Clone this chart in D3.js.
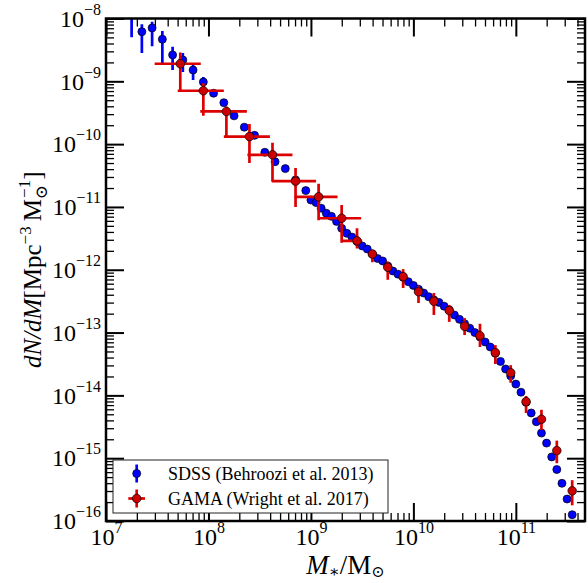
<!DOCTYPE html>
<html lang="en">
<head>
  <meta charset="utf-8">
  <title>Stellar mass function</title>
  <style>
    body { margin: 0; background: #fff; }
    text { font-family: "Liberation Serif", "DejaVu Serif", serif; }
  </style>
</head>
<body>
  <div id="chart-area"></div>

  <script src="https://cdn.jsdelivr.net/npm/d3@7/dist/d3.min.js"></script>
  <script>
    // SDSS (Behroozi et al. 2013): log10 M*, log10 dN/dM, error bars in dex
    var sdssLogM = [7.25, 7.35, 7.45, 7.55, 7.65, 7.75, 7.85, 7.95, 8.05, 8.15,
                    8.25, 8.35, 8.45, 8.55, 8.65, 8.75, 8.85, 8.95,
                    9.00, 9.05, 9.10, 9.15, 9.20, 9.25, 9.30, 9.35, 9.40, 9.45,
                    9.50, 9.55, 9.60, 9.65, 9.70, 9.75, 9.80, 9.85, 9.90, 9.95,
                    10.00, 10.05, 10.10, 10.15, 10.20, 10.25, 10.30, 10.35, 10.40, 10.45,
                    10.50, 10.55, 10.60, 10.65, 10.70, 10.75, 10.80, 10.85, 10.90, 10.95,
                    11.00, 11.05, 11.10, 11.15, 11.20, 11.25, 11.30, 11.35, 11.40, 11.45,
                    11.50, 11.55];
    var sdssLogN = [-7.90, -8.21, -8.15, -8.33, -8.58, -8.66, -8.82, -9.01, -9.19, -9.34,
                    -9.55, -9.73, -9.86, -10.13, -10.28, -10.39, -10.57, -10.74,
                    -10.89, -10.93, -11.02, -11.10, -11.15, -11.23, -11.34, -11.42, -11.48, -11.55,
                    -11.62, -11.67, -11.75, -11.82, -11.86, -11.94, -12.02, -12.07, -12.12, -12.19,
                    -12.25, -12.31, -12.37, -12.43, -12.48, -12.52, -12.58, -12.64, -12.72, -12.79,
                    -12.86, -12.93, -13.00, -13.07, -13.15, -13.23, -13.33, -13.46, -13.58, -13.69,
                    -13.82, -13.95, -14.11, -14.28, -14.42, -14.60, -14.76, -14.98, -15.18, -15.40,
                    -15.65, -15.90];
    var sdssErrDn = [0.40, 0.34, 0.29, 0.40, 0.24, 0.19, 0.16, 0.08, 0.05, 0.04,
                     0.03, 0.03, 0.03, 0.03, 0.03, 0.03, 0.03, 0.03,
                     0.02, 0.02, 0.02, 0.02, 0.02, 0.02, 0.02, 0.02, 0.02, 0.02,
                     0.02, 0.02, 0.02, 0.02, 0.02, 0.02, 0.02, 0.02, 0.02, 0.02,
                     0.02, 0.02, 0.02, 0.02, 0.02, 0.02, 0.02, 0.02, 0.02, 0.02,
                     0.02, 0.02, 0.02, 0.02, 0.02, 0.02, 0.02, 0.02, 0.02, 0.02,
                     0.02, 0.02, 0.02, 0.02, 0.02, 0.02, 0.02, 0.02, 0.02, 0.02,
                     0.02, 0.02];
    var sdssErrUp = [0.40, 0.12, 0.10, 0.13, 0.13, 0.11, 0.11, 0.08, 0.05, 0.04,
                     0.03, 0.03, 0.03, 0.03, 0.03, 0.03, 0.03, 0.03,
                     0.02, 0.02, 0.02, 0.02, 0.02, 0.02, 0.02, 0.02, 0.02, 0.02,
                     0.02, 0.02, 0.02, 0.02, 0.02, 0.02, 0.02, 0.02, 0.02, 0.02,
                     0.02, 0.02, 0.02, 0.02, 0.02, 0.02, 0.02, 0.02, 0.02, 0.02,
                     0.02, 0.02, 0.02, 0.02, 0.02, 0.02, 0.02, 0.02, 0.02, 0.02,
                     0.02, 0.02, 0.02, 0.02, 0.02, 0.02, 0.02, 0.02, 0.02, 0.02,
                     0.02, 0.02];

    // GAMA (Wright et al. 2017): log10 M*, log10 dN/dM, bar ends and bin edges
    var gamaLogM = [7.725, 7.95, 8.175, 8.40, 8.625, 8.85, 9.075, 9.30, 9.45, 9.60,
                    9.75, 9.90, 10.05, 10.20, 10.35, 10.50, 10.65, 10.80, 10.95, 11.10,
                    11.25, 11.40, 11.55];
    var gamaLogN = [-8.72, -9.15, -9.48, -9.88, -10.17, -10.59, -10.84, -11.18, -11.54, -11.75,
                    -11.96, -12.11, -12.35, -12.50, -12.65, -12.90, -13.05, -13.32, -13.64, -14.10,
                    -14.38, -14.88, -15.52];
    var gamaLogNHi = [-8.54, -9.03, -9.40, -9.68, -9.98, -10.38, -10.63, -10.97, -11.34, -11.69,
                      -11.87, -11.99, -12.26, -12.37, -12.56, -12.77, -12.86, -13.20, -13.52, -14.01,
                      -14.23, -14.72, -15.35];
    var gamaLogNLo = [-9.14, -9.55, -9.88, -10.30, -10.60, -11.00, -11.21, -11.57, -11.66, -11.88,
                      -12.16, -12.29, -12.53, -12.72, -12.83, -13.04, -13.23, -13.50, -13.80, -14.28,
                      -14.55, -15.08, -15.75];
    var gamaBinLo = [7.475, 7.70, 7.92, 8.15, 8.38, 8.62, 8.84, 9.07, 9.30, 9.60,
                     9.75, 9.90, 10.05, 10.20, 10.35, 10.50, 10.65, 10.80, 10.95, 11.10,
                     11.25, 11.40, 11.55];
    var gamaBinHi = [7.925, 8.15, 8.375, 8.60, 8.82, 9.05, 9.26, 9.49, 9.50, 9.60,
                     9.75, 9.90, 10.05, 10.20, 10.35, 10.50, 10.65, 10.80, 10.95, 11.10,
                     11.25, 11.40, 11.55];

    // tick labels (powers of ten)
    var xTickExp = [7, 8, 9, 10, 11];
    var yTickExp = [-16, -15, -14, -13, -12, -11, -10, -9, -8];

    var legendLabels = ["SDSS (Behroozi et al. 2013)", "GAMA (Wright et al. 2017)"];

    var blue = "#0000ff";
    var red = "#dd0000";
    var redFill = "#cc0000";

    var margin = { top: 18.5, left: 106, bottom: 62, right: 3 };
    var svgWidth = 588;
    var svgHeight = 583;
    var width = svgWidth - margin.left - margin.right;
    var height = svgHeight - margin.top - margin.bottom;

    var p10 = function(v) { return Math.pow(10, v); };

    var svg = d3.select("#chart-area")
                .append("svg")
                .attr("width", svgWidth)
                .attr("height", svgHeight);

    var g = svg.append("g")
               .attr("transform", "translate(" + margin.left + "," + margin.top + ")");

    var x = d3.scaleLog()
              .domain([1e7, p10(11.675)])
              .range([0, width]);

    var y = d3.scaleLog()
              .domain([1e-16, 1e-8])
              .range([height, 0]);

    var xMajor = xTickExp.map(p10);
    var yMajor = yTickExp.map(p10);
    var xMinor = [], yMinor = [];
    xTickExp.forEach(function(e) {
      for (var m = 2; m <= 9; m++) {
        var v = m * p10(e);
        if (v < x.domain()[1]) xMinor.push(v);
      }
    });
    yTickExp.slice(0, -1).forEach(function(e) {
      for (var m = 2; m <= 9; m++) yMinor.push(m * p10(e));
    });

    // power-of-ten labels with a raised exponent
    function powLabels(sel) {
      sel.selectAll(".tick text").each(function(d) {
        var e = Math.round(Math.log10(d));
        var t = d3.select(this).text(null);
        t.append("tspan").text("10");
        t.append("tspan")
         .attr("dy", -12)
         .attr("font-size", 16)
         .text(e < 0 ? "\u2212" + (-e) : e);
      });
    }

    function styleAxis(sel, w) {
      sel.attr("font-family", null).attr("font-size", 24);
      sel.select(".domain").remove();
      sel.selectAll(".tick line").attr("stroke-width", w);
    }

    // axes: ticks point inward on all four sides
    var axes = [
      { a: d3.axisBottom(x), t: "translate(0," + height + ")", major: xMajor, minor: xMinor, lab: true, pad: 7 },
      { a: d3.axisTop(x), t: "translate(0,0)", major: xMajor, minor: xMinor, lab: false, pad: 5 },
      { a: d3.axisLeft(y), t: "translate(0,0)", major: yMajor, minor: yMinor, lab: true, pad: 5 },
      { a: d3.axisRight(y), t: "translate(" + width + ",0)", major: yMajor, minor: yMinor, lab: false, pad: 5 }
    ];
    axes.forEach(function(ax) {
      g.append("g")
       .attr("transform", ax.t)
       .call(ax.a.tickValues(ax.minor).tickSize(-8).tickFormat(""))
       .call(styleAxis, 1.3);
      var mg = g.append("g")
                .attr("transform", ax.t)
                .call(ax.a.tickValues(ax.major).tickSize(-18)
                          .tickPadding(ax.pad)
                          .tickFormat(ax.lab ? d3.format("") : ""))
                .call(styleAxis, 2);
      if (ax.lab) mg.call(powLabels);
    });

    // data
    svg.append("defs").append("clipPath").attr("id", "plot-clip")
       .append("rect").attr("width", width).attr("height", height);

    var plot = g.append("g").attr("clip-path", "url(#plot-clip)");

    var sdss = sdssLogM.map(function(m, i) {
      return { m: p10(m), n: p10(sdssLogN[i]),
               lo: p10(sdssLogN[i] - sdssErrDn[i]), hi: p10(sdssLogN[i] + sdssErrUp[i]) };
    });
    var gama = gamaLogM.map(function(m, i) {
      return { m: p10(m), n: p10(gamaLogN[i]),
               lo: p10(gamaLogNLo[i]), hi: p10(gamaLogNHi[i]),
               x0: p10(gamaBinLo[i]), x1: p10(gamaBinHi[i]) };
    });

    plot.selectAll(".sdss-err")
        .data(sdss)
        .enter().append("line")
        .attr("x1", function(d) { return x(d.m); })
        .attr("x2", function(d) { return x(d.m); })
        .attr("y1", function(d) { return y(d.lo); })
        .attr("y2", function(d) { return y(d.hi); })
        .attr("stroke", blue)
        .attr("stroke-width", 2.7);

    plot.selectAll(".sdss-pt")
        .data(sdss)
        .enter().append("circle")
        .attr("cx", function(d) { return x(d.m); })
        .attr("cy", function(d) { return y(d.n); })
        .attr("r", 4)
        .attr("fill", blue)
        .attr("stroke", "#000")
        .attr("stroke-width", 0.7);

    plot.selectAll(".gama-xerr")
        .data(gama.filter(function(d) { return d.x1 > d.x0; }))
        .enter().append("line")
        .attr("x1", function(d) { return x(d.x0); })
        .attr("x2", function(d) { return x(d.x1); })
        .attr("y1", function(d) { return y(d.n); })
        .attr("y2", function(d) { return y(d.n); })
        .attr("stroke", red)
        .attr("stroke-width", 2.7);

    plot.selectAll(".gama-yerr")
        .data(gama)
        .enter().append("line")
        .attr("x1", function(d) { return x(d.m); })
        .attr("x2", function(d) { return x(d.m); })
        .attr("y1", function(d) { return y(d.lo); })
        .attr("y2", function(d) { return y(d.hi); })
        .attr("stroke", red)
        .attr("stroke-width", 2.7);

    plot.selectAll(".gama-pt")
        .data(gama)
        .enter().append("circle")
        .attr("cx", function(d) { return x(d.m); })
        .attr("cy", function(d) { return y(d.n); })
        .attr("r", 4.3)
        .attr("fill", redFill)
        .attr("stroke", "#000")
        .attr("stroke-width", 0.7);

    // frame
    g.append("rect")
     .attr("width", width)
     .attr("height", height)
     .attr("fill", "none")
     .attr("stroke", "#000")
     .attr("stroke-width", 2.5);

    // legend
    var lg = svg.append("g").attr("transform", "translate(113,460)");
    lg.append("rect")
      .attr("width", 275).attr("height", 53)
      .attr("fill", "#fff").attr("stroke", "#222").attr("stroke-width", 1);
    [0, 1].forEach(function(i) {
      var cy = 13.5 + i * 25;
      var c = i === 0 ? blue : red;
      lg.append("line").attr("x1", 23.7).attr("x2", 23.7)
        .attr("y1", cy - 9).attr("y2", cy + 9)
        .attr("stroke", c).attr("stroke-width", 2.7);
      if (i === 1) {
        lg.append("line").attr("x1", 15.3).attr("x2", 32)
          .attr("y1", cy).attr("y2", cy)
          .attr("stroke", c).attr("stroke-width", 2.7);
      }
      lg.append("circle").attr("cx", 23.7).attr("cy", cy).attr("r", i === 0 ? 4 : 4.3)
        .attr("fill", i === 0 ? blue : redFill).attr("stroke", "#000").attr("stroke-width", 0.7);
      lg.append("text").attr("x", 55).attr("y", cy + 6)
        .attr("font-size", 18).text(legendLabels[i]);
    });

    // axis titles
    var xt = svg.append("text")
                .attr("x", margin.left + width / 2)
                .attr("y", 574)
                .attr("text-anchor", "middle")
                .attr("font-size", 27);
    xt.append("tspan").attr("font-style", "italic").text("M");
    xt.append("tspan").attr("dy", 3).attr("font-size", 16).text("\u2217");
    xt.append("tspan").attr("dy", -3).text("/M");
    xt.append("tspan").attr("dy", 3).attr("font-size", 16).text("\u2299");

    var yt = svg.append("text")
                .attr("transform", "translate(41," + (margin.top + height / 2) + ") rotate(-90)")
                .attr("text-anchor", "middle")
                .attr("font-size", 25);
    yt.append("tspan").attr("font-style", "italic").text("dN/dM");
    yt.append("tspan").text("[Mpc");
    yt.append("tspan").attr("dy", -10).attr("font-size", 17).text("\u22123");
    yt.append("tspan").attr("dy", 10).text("\u2009M");
    yt.append("tspan").attr("dy", 6).attr("font-size", 17).text("\u2299");
    yt.append("tspan").attr("dx", -13).attr("dy", -17).attr("font-size", 17).text("\u22121");
    yt.append("tspan").attr("dy", 11).text("]");
  </script>
</body>
</html>
